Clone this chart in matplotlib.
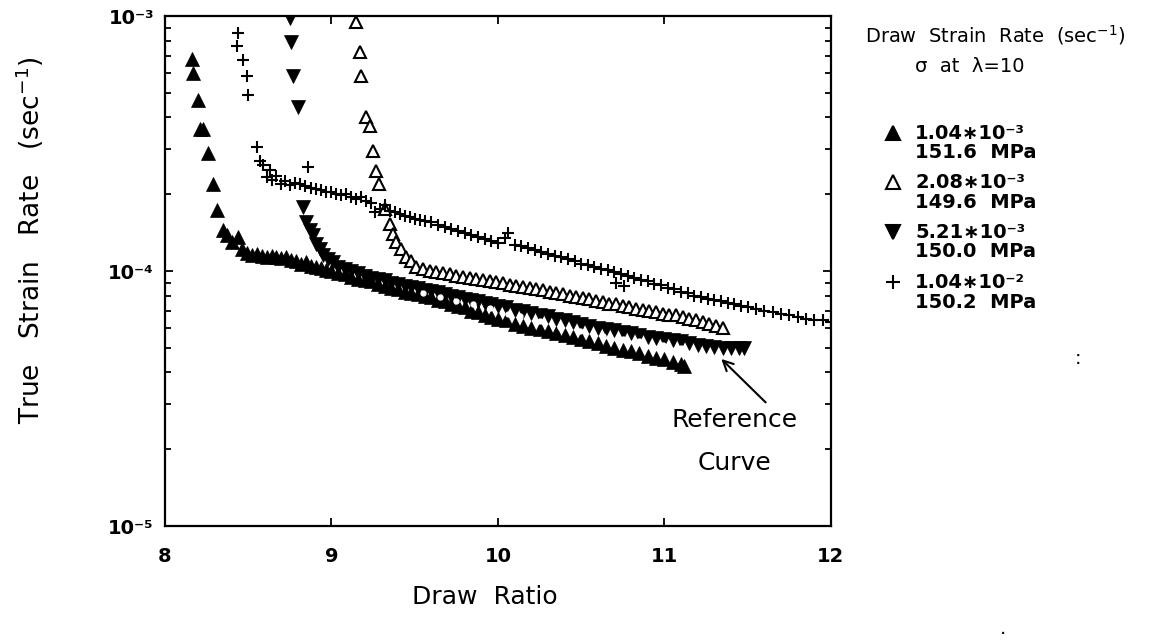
import matplotlib.pyplot as plt
from matplotlib.lines import Line2D

# draw ratio / true strain rate (in units of 1e-4 sec^-1)
x_a = [8.16, 8.17, 8.20, 8.21, 8.23, 8.26, 8.29, 8.31, 8.35, 8.37, 8.40, 8.44, 8.46, 8.49,
       8.52, 8.55, 8.58, 8.61, 8.64, 8.67, 8.70, 8.73, 8.76, 8.79, 8.82, 8.85, 8.88, 8.91,
       8.94, 8.97, 9.00, 9.04, 9.08, 9.12, 9.16, 9.20, 9.24, 9.28, 9.32, 9.36, 9.40, 9.44,
       9.48, 9.52, 9.56, 9.60, 9.64, 9.68, 9.72, 9.76, 9.80, 9.84, 9.88, 9.92, 9.96, 10.00,
       10.05, 10.10, 10.15, 10.20, 10.25, 10.30, 10.35, 10.40, 10.45, 10.50, 10.55, 10.60,
       10.65, 10.70, 10.75, 10.80, 10.85, 10.90, 10.95, 11.00, 11.05, 11.10, 11.12]
y_a = [6.8, 6.0, 4.7, 3.6, 3.6, 2.9, 2.2, 1.74, 1.45, 1.38, 1.30, 1.36, 1.22, 1.18,
       1.16, 1.17, 1.15, 1.14, 1.15, 1.13, 1.12, 1.13, 1.10, 1.09, 1.07, 1.08, 1.05, 1.04,
       1.03, 1.01, 1.00, 0.98, 0.97, 0.95, 0.93, 0.92, 0.91, 0.89, 0.87, 0.86, 0.85, 0.83,
       0.82, 0.81, 0.80, 0.79, 0.77, 0.76, 0.74, 0.73, 0.72, 0.70, 0.69, 0.67, 0.66, 0.65,
       0.64, 0.62, 0.61, 0.60, 0.59, 0.58, 0.57, 0.56, 0.55, 0.54, 0.53, 0.52,
       0.51, 0.50, 0.49, 0.485, 0.475, 0.465, 0.455, 0.45, 0.44, 0.43, 0.425]

x_b = [9.15, 9.17, 9.18, 9.21, 9.23, 9.25, 9.27, 9.285, 9.32, 9.35, 9.37, 9.39, 9.42, 9.45,
       9.48, 9.51, 9.55, 9.59, 9.63, 9.67, 9.71, 9.75, 9.79, 9.83, 9.87, 9.91, 9.95, 9.99,
       10.03, 10.07, 10.11, 10.15, 10.19, 10.23, 10.27, 10.31, 10.35, 10.39, 10.43, 10.47,
       10.51, 10.55, 10.59, 10.63, 10.67, 10.71, 10.75, 10.79, 10.83, 10.87, 10.91, 10.95,
       10.99, 11.03, 11.07, 11.11, 11.15, 11.19, 11.23, 11.27, 11.31, 11.35]
y_b = [9.5, 7.2, 5.8, 4.0, 3.7, 2.95, 2.47, 2.2, 1.75, 1.53, 1.40, 1.30, 1.22, 1.14,
       1.09, 1.04, 1.02, 1.00, 0.99, 0.98, 0.97, 0.96, 0.95, 0.94, 0.93, 0.92, 0.915, 0.905,
       0.895, 0.885, 0.875, 0.865, 0.86, 0.85, 0.84, 0.83, 0.82, 0.81, 0.80, 0.79,
       0.785, 0.775, 0.765, 0.755, 0.745, 0.74, 0.73, 0.72, 0.71, 0.705, 0.695, 0.69,
       0.68, 0.675, 0.67, 0.66, 0.65, 0.64, 0.63, 0.62, 0.61, 0.60]

x_c = [8.75, 8.76, 8.77, 8.80, 8.83, 8.85, 8.87, 8.89, 8.91, 8.93, 8.95, 8.98, 9.01, 9.04,
       9.08, 9.12, 9.16, 9.20, 9.24, 9.28, 9.32, 9.36, 9.40, 9.44, 9.48, 9.52, 9.56, 9.60,
       9.64, 9.68, 9.72, 9.76, 9.80, 9.84, 9.88, 9.92, 9.96, 10.00, 10.05, 10.10, 10.15,
       10.20, 10.25, 10.30, 10.35, 10.40, 10.45, 10.50, 10.55, 10.60, 10.65, 10.70, 10.75,
       10.80, 10.85, 10.90, 10.95, 11.00, 11.05, 11.10, 11.15, 11.20, 11.25, 11.30, 11.35,
       11.40, 11.45, 11.48]
y_c = [9.8, 7.9, 5.8, 4.4, 1.78, 1.55, 1.45, 1.38, 1.28, 1.22, 1.16, 1.11, 1.08, 1.04,
       1.02, 1.00, 0.98, 0.96, 0.94, 0.93, 0.92, 0.90, 0.89, 0.875, 0.865, 0.855, 0.845, 0.835,
       0.825, 0.81, 0.80, 0.79, 0.78, 0.77, 0.76, 0.75, 0.74, 0.73, 0.72, 0.705, 0.695,
       0.685, 0.675, 0.665, 0.65, 0.64, 0.63, 0.62, 0.61, 0.60, 0.595, 0.585, 0.575,
       0.57, 0.56, 0.55, 0.545, 0.54, 0.535, 0.53, 0.52, 0.515, 0.51, 0.505, 0.50,
       0.50, 0.50, 0.50]

x_d = [8.43, 8.44, 8.47, 8.49, 8.50, 8.55, 8.57, 8.59, 8.61, 8.63, 8.64, 8.67, 8.70, 8.72,
       8.75, 8.78, 8.81, 8.84, 8.86, 8.88, 8.91, 8.94, 8.97, 9.00, 9.03, 9.06, 9.09, 9.12,
       9.15, 9.18, 9.21, 9.24, 9.26, 9.29, 9.32, 9.35, 9.38, 9.41, 9.44, 9.47, 9.50, 9.53,
       9.56, 9.60, 9.64, 9.68, 9.72, 9.76, 9.80, 9.84, 9.88, 9.92, 9.96, 10.00, 10.04, 10.06,
       10.10, 10.14, 10.18, 10.22, 10.26, 10.30, 10.34, 10.38, 10.42, 10.46, 10.50, 10.54,
       10.58, 10.62, 10.66, 10.70, 10.71, 10.74, 10.76, 10.78, 10.82, 10.86, 10.90, 10.94,
       10.98, 11.02, 11.06, 11.10, 11.14, 11.18, 11.22, 11.26, 11.30, 11.34, 11.38, 11.42,
       11.46, 11.50, 11.55, 11.60, 11.65, 11.70, 11.75, 11.80, 11.85, 11.90, 11.95, 12.00]
y_d = [7.6, 8.6, 6.7, 5.8, 4.9, 3.07, 2.7, 2.6, 2.34, 2.5, 2.28, 2.35, 2.2, 2.25,
       2.18, 2.22, 2.2, 2.15, 2.55, 2.12, 2.10, 2.08, 2.05, 2.05, 2.0, 1.98, 2.0, 1.95,
       1.92, 1.95, 1.88, 1.85, 1.70, 1.75, 1.82, 1.72, 1.70, 1.68, 1.65, 1.63, 1.60, 1.58,
       1.57, 1.55, 1.52, 1.49, 1.46, 1.44, 1.41, 1.38, 1.36, 1.33, 1.31, 1.29, 1.35, 1.41,
       1.27, 1.25, 1.23, 1.21, 1.19, 1.17, 1.15, 1.13, 1.11, 1.09, 1.07, 1.06,
       1.04, 1.02, 1.01, 0.99, 0.90, 0.97, 0.87, 0.96, 0.94, 0.92, 0.91, 0.89,
       0.88, 0.86, 0.85, 0.83, 0.82, 0.80, 0.79, 0.78, 0.77, 0.76, 0.75, 0.74,
       0.73, 0.72, 0.71, 0.70, 0.69, 0.68, 0.67, 0.66, 0.65, 0.645, 0.64, 0.63]

# white dots of the reference curve inside the black band
x_ref = [9.55, 9.65, 9.75, 9.85, 9.95, 10.06, 10.13, 10.25, 10.37, 10.49, 10.63, 10.75,
         10.85, 10.99, 11.10]
y_ref = [0.82, 0.79, 0.765, 0.74, 0.715, 0.68, 0.665, 0.635, 0.605, 0.58, 0.555, 0.54,
         0.53, 0.515, 0.50]

legend_rate = ["1.04∗10⁻³", "2.08∗10⁻³", "5.21∗10⁻³", "1.04∗10⁻²"]
legend_sigma = ["151.6  MPa", "149.6  MPa", "150.0  MPa", "150.2  MPa"]

s = 1e-4

fig = plt.figure(figsize=(11.6, 6.41), dpi=100)
ax = fig.add_axes([0.1422, 0.1794, 0.5741, 0.7956])

ax.plot(x_a, [v * s for v in y_a], "^", color="black", ms=9.5, mew=0.5)
ax.plot(x_c, [v * s for v in y_c], "v", color="black", ms=9.5, mew=0.5)
ax.plot(x_ref, [v * s for v in y_ref], "o", mfc="white", mec="white", ms=3.5)
ax.plot(x_b, [v * s for v in y_b], "^", mfc="white", mec="black", ms=9, mew=1.5)
ax.plot(x_d, [v * s for v in y_d], "+", color="black", ms=9, mew=1.5)

ax.set_yscale("log")
ax.set_xlim(8, 12)
ax.set_ylim(1e-5, 1e-3)
ax.set_xticks([8, 9, 10, 11, 12])
ax.set_xticklabels(["8", "9", "10", "11", "12"], fontsize=14, fontweight="bold")
ax.set_yticks([1e-5, 1e-4, 1e-3])
ax.set_yticklabels(["10⁻⁵", "10⁻⁴", "10⁻³"], fontsize=14, fontweight="bold")
ax.yaxis.set_minor_formatter(plt.NullFormatter())
ax.tick_params(which="both", direction="in", top=True, right=True, width=1.3)
ax.tick_params(which="major", length=6)
ax.tick_params(which="minor", length=4)
ax.tick_params(axis="x", pad=15)
ax.tick_params(axis="y", pad=8)
for sp in ax.spines.values():
    sp.set_linewidth(1.6)

ax.annotate("", xy=(11.33, 4.6e-5), xytext=(11.62, 3.0e-5),
            arrowprops=dict(arrowstyle="->", lw=1.5, color="black", mutation_scale=18))
ax.text(11.42, 2.6e-5, "Reference", fontsize=18, ha="center", va="center")
ax.text(11.42, 1.77e-5, "Curve", fontsize=18, ha="center", va="center")

fig.text(30 / 1160, 1 - 240 / 641, "True   Strain   Rate   (sec$^{-1}$)", rotation=90,
         fontsize=19, ha="center", va="center")
fig.text(485 / 1160, 1 - 597 / 641, "Draw  Ratio", fontsize=18, ha="center", va="center")

# legend block on the right
fig.text(865 / 1160, 1 - 35 / 641, "Draw  Strain  Rate  (sec$^{-1}$)", fontsize=14, va="center")
fig.text(915 / 1160, 1 - 67 / 641, "σ  at  λ=10", fontsize=14, va="center")

markers = [("^", "black"), ("^", "white"), ("v", "black"), ("+", "black")]
rows = [133, 182, 232, 282]
for (m, fc), yp, r, sg in zip(markers, rows, legend_rate, legend_sigma):
    fig.add_artist(Line2D([893 / 1160], [1 - yp / 641], marker=m, mfc=fc, mec="black",
                          color="black", ms=10, mew=1.5, linestyle="none"))
    fig.text(915 / 1160, 1 - yp / 641, r, fontsize=14, fontweight="bold", va="center")
    fig.text(915 / 1160, 1 - (yp + 20) / 641, sg, fontsize=14, fontweight="bold", va="center")

fig.text(1075 / 1160, 1 - 358 / 641, ":", fontsize=14, va="center")
fig.text(1000 / 1160, 1 - 628 / 641, ".", fontsize=14, va="center")

fig.savefig("out.png", dpi=100)
